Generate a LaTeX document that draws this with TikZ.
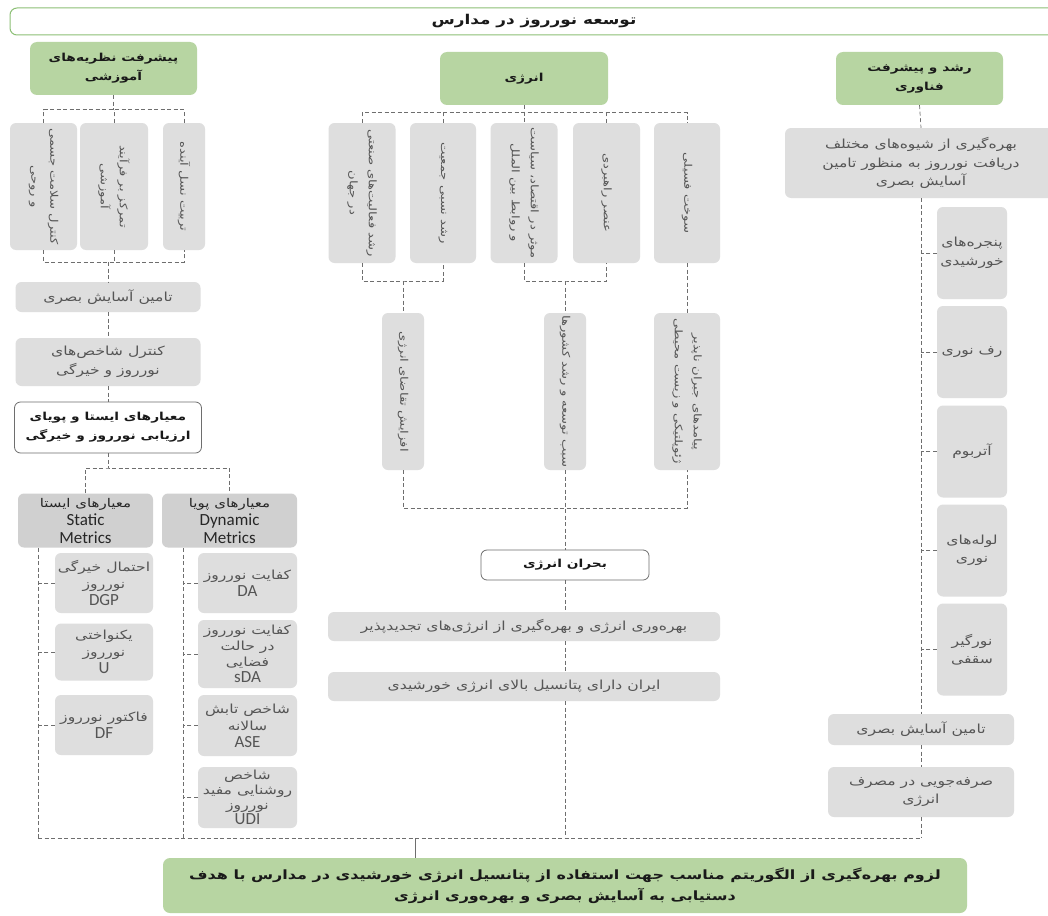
\documentclass[tikz,border=0pt]{standalone}
\usepackage{fontspec}
\newfontfamily\persianfont[Script=Arabic, FakeStretch=1.25]{DejaVu Sans}
\newfontfamily\latinfont{Carlito}
\TeXXeTstate=1
\newcommand{\prs}[1]{{\persianfont\beginR #1\endR}}
\newcommand{\lat}[1]{{\latinfont\fontsize{17}{17}\selectfont #1}}
\definecolor{hdrgreen}{RGB}{183,213,162}
\definecolor{ttlgreen}{RGB}{140,192,118}
\definecolor{boxgray}{RGB}{222,222,222}
\definecolor{boxdark}{RGB}{208,208,208}
\definecolor{txtgray}{RGB}{85,85,85}
\definecolor{linegray}{RGB}{110,110,110}
\begin{document}
\begin{tikzpicture}[x=1pt,y=-1pt]
            \tikzstyle{gbox}=[rounded corners=6pt, fill=boxgray, text=txtgray, align=center, inner sep=1pt, font=\fontsize{12.5}{18.5}\selectfont]
            \tikzstyle{kbox}=[gbox, font=\fontsize{12.5}{17}\selectfont]
            \tikzstyle{vbox}=[gbox, rotate=-90, font=\fontsize{10.5}{19}\selectfont]
            \tikzstyle{mbox}=[gbox, fill=boxdark, text=black!85, font=\fontsize{12}{18}\selectfont]
            \tikzstyle{grn}=[rounded corners=7pt, fill=hdrgreen, text=black!90, align=center, font=\fontsize{11}{19}\selectfont\bfseries]
            \tikzstyle{wbox}=[rounded corners=6pt, fill=white, draw=linegray, line width=0.8pt, align=center, text=black!90, font=\fontsize{11}{19}\selectfont\bfseries]
            \tikzstyle{link}=[linegray, line width=0.7pt, dash pattern=on 4pt off 2.5pt]

            \useasboundingbox (0,0) rectangle (1048,915);
            \fill[white] (0,0) rectangle (1048,915);

            % title and the three headers
            \node[grn, fill=white, draw=ttlgreen, line width=1pt, minimum width=1048, minimum height=27, font=\fontsize{13.5}{16}\selectfont\bfseries] (ttl) at (534,21.5) {\prs{توسعه نورروز در مدارس}};
            \node[grn, minimum width=167, minimum height=53] (h1) at (113.5,68.5) {\prs{پیشرفت نظریه‌های}\\\prs{آموزشی}};
            \node[grn, minimum width=168, minimum height=53] (h2) at (524,78.5) {\prs{انرژی}};
            \node[grn, minimum width=167, minimum height=53] (h3) at (919.5,78.5) {\prs{رشد و پیشرفت}\\\prs{فناوری}};

            % left column
            \node[vbox, minimum width=127, minimum height=67] (a1) at (43.5,186.5) {\prs{کنترل سلامت جسمی}\\\prs{و روحی}};
            \node[vbox, minimum width=127, minimum height=68] (a2) at (114,186.5) {\prs{تمرکز بر فرآیند}\\\prs{آموزشی}};
            \node[vbox, minimum width=127, minimum height=42] (a3) at (184,186.5) {\prs{تربیت نسل آینده}};
            \node[gbox, minimum width=185, minimum height=30] (l1) at (108,297) {\prs{تامین آسایش بصری}};
            \node[gbox, minimum width=185, minimum height=48] (l2) at (108,362) {\prs{کنترل شاخص‌های}\\\prs{نورروز و خیرگی}};
            \node[wbox, minimum width=187, minimum height=51] (l3) at (108,427.5) {\prs{معیارهای ایستا و پویای}\\\prs{ارزیابی نورروز و خیرگی}};
            \node[mbox, minimum width=135, minimum height=54] (s0) at (85.5,520.5) {\prs{معیارهای ایستا}\\\lat{Static}\\\lat{Metrics}};
            \node[mbox, minimum width=135, minimum height=54] (d0) at (229.5,520.5) {\prs{معیارهای پویا}\\\lat{Dynamic}\\\lat{Metrics}};
            \node[kbox, minimum width=98, minimum height=60] (s1) at (104,583) {\prs{احتمال خیرگی}\\\prs{نورروز}\\\lat{DGP}};
            \node[kbox, minimum width=98, minimum height=57] (s2) at (104,652) {\prs{یکنواختی}\\\prs{نورروز}\\\lat{U}};
            \node[kbox, minimum width=98, minimum height=60] (s3) at (104,725) {\prs{فاکتور نورروز}\\\lat{DF}};
            \node[kbox, minimum width=99, minimum height=60] (d1) at (247.5,583) {\prs{کفایت نورروز}\\\lat{DA}};
            \node[kbox, minimum width=99, minimum height=68, font=\fontsize{12.5}{16}\selectfont] (d2) at (247.5,654) {\prs{کفایت نورروز}\\\prs{در حالت}\\\prs{فضایی}\\\lat{sDA}};
            \node[kbox, minimum width=99, minimum height=61] (d3) at (247.5,725.5) {\prs{شاخص تابش}\\\prs{سالانه}\\\lat{ASE}};
            \node[kbox, minimum width=99, minimum height=61, font=\fontsize{12.5}{15}\selectfont] (d4) at (247.5,797.5) {\prs{شاخص}\\\prs{روشنایی مفید}\\\prs{نورروز}\\\lat{UDI}};

            % middle column
            \node[vbox, minimum width=140, minimum height=67] (b1) at (362,193) {\prs{رشد فعالیت‌های صنعتی}\\\prs{در جهان}};
            \node[vbox, minimum width=140, minimum height=66] (b2) at (443,193) {\prs{رشد نسبی جمعیت}};
            \node[vbox, minimum width=140, minimum height=67] (b3) at (524,193) {\prs{موثر در اقتصاد، سیاست}\\\prs{و روابط بین الملل}};
            \node[vbox, minimum width=140, minimum height=67] (b4) at (606.5,193) {\prs{عنصر راهبردی}};
            \node[vbox, minimum width=140, minimum height=66] (b5) at (687,193) {\prs{سوخت فسیلی}};
            \node[vbox, minimum width=157, minimum height=42] (c1) at (403,391.5) {\prs{افزایش تقاضای انرژی}};
            \node[vbox, minimum width=157, minimum height=42] (c2) at (565,391.5) {\prs{سبب توسعه و رشد کشورها}};
            \node[vbox, minimum width=157, minimum height=66] (c3) at (687,391.5) {\prs{پیامدهای جبران ناپذیر}\\\prs{ژئوپلتیکی و زیست محیطی}};
            \node[wbox, minimum width=168, minimum height=30] (bh) at (565,565) {\prs{بحران انرژی}};
            \node[gbox, minimum width=392, minimum height=29] (m1) at (524,626.5) {\prs{بهره‌وری انرژی و بهره‌گیری از انرژی‌های تجدیدپذیر}};
            \node[gbox, minimum width=392, minimum height=29] (m2) at (524,686.5) {\prs{ایران دارای پتانسیل بالای انرژی خورشیدی}};

            % right column
            \node[gbox, minimum width=272, minimum height=70] (r0) at (921,163) {\prs{بهره‌گیری از شیوه‌های مختلف}\\\prs{دریافت نورروز به منظور تامین}\\\prs{آسایش بصری}};
            \node[gbox, minimum width=70, minimum height=92] (r1) at (972,253) {\prs{پنجره‌های}\\\prs{خورشیدی}};
            \node[gbox, minimum width=70, minimum height=92] (r2) at (972,352) {\prs{رف نوری}};
            \node[gbox, minimum width=70, minimum height=92] (r3) at (972,451.5) {\prs{آتربوم}};
            \node[gbox, minimum width=70, minimum height=92] (r4) at (972,550.5) {\prs{لوله‌های}\\\prs{نوری}};
            \node[gbox, minimum width=70, minimum height=92] (r5) at (972,649.5) {\prs{نورگیر}\\\prs{سقفی}};
            \node[gbox, minimum width=186, minimum height=31] (r6) at (921,729.5) {\prs{تامین آسایش بصری}};
            \node[gbox, minimum width=186, minimum height=50] (r7) at (921,792) {\prs{صرفه‌جویی در مصرف}\\\prs{انرژی}};

            % bottom
            \node[grn, minimum width=804, minimum height=55, font=\fontsize{12.8}{21}\selectfont\bfseries] (fb) at (565,885.5) {\prs{لزوم بهره‌گیری از الگوریتم مناسب جهت استفاده از پتانسیل انرژی خورشیدی در مدارس با هدف}\\\prs{دستیابی به آسایش بصری و بهره‌وری انرژی}};

            \coordinate (sT) at (38,548);
            \coordinate (sB) at (38,838);
            \coordinate (dT) at (183,548);
            \coordinate (dB) at (183,838);
            \coordinate (rB) at (921,838);
            \coordinate (mB) at (565,838);
            \coordinate (fT) at (415,838);
            \coordinate (k1) at (403,281);
            \coordinate (k2) at (565,281);
            \coordinate (k3) at (565,508);
            \coordinate (k4) at (108,262);
            \coordinate (k5) at (108,468);

            % left connectors
            \draw[link] (a1.west) -- ++(0,-13) -| (a3.west);
            \draw[link] (h1.south) -- (h1.south |- 0,110);
            \draw[link] (a2.west) -- ++(0,-13);
            \draw[link] (a1.east) |- (k4) -| (a3.east);
            \draw[link] (a2.east) -- (a2.east |- k4);
            \draw[link] (k4) -- (l1.north);
            \draw[link] (l1.south) -- (l2.north);
            \draw[link] (l2.south) -- (l3.north);
            \draw[link] (l3.south) -- (k5);
            \draw[link] (s0.north) |- (k5) -| (d0.north);
            \draw[link] (sT) -- (sB);
            \draw[link] (dT) -- (dB);
            \draw[link] (s1.west) -- (s1.west -| sT);
            \draw[link] (s2.west) -- (s2.west -| sT);
            \draw[link] (s3.west) -- (s3.west -| sT);
            \draw[link] (d1.west) -- (d1.west -| dT);
            \draw[link] (d2.west) -- (d2.west -| dT);
            \draw[link] (d3.west) -- (d3.west -| dT);
            \draw[link] (d4.west) -- (d4.west -| dT);

            % middle connectors
            \draw[link] (b1.west) -- ++(0,-10) -| (b5.west);
            \draw[link] (h2.south) -- (b3.west);
            \draw[link] (b2.west) -- ++(0,-10);
            \draw[link] (b4.west) -- ++(0,-10);
            \draw[link] (b1.east) |- (k1) -| (b2.east);
            \draw[link] (b3.east) |- (k2) -| (b4.east);
            \draw[link] (k1) -- (c1.west);
            \draw[link] (k2) -- (c2.west);
            \draw[link] (b5.east) -- (c3.west);
            \draw[link] (c1.east) |- (k3) -| (c3.east);
            \draw[link] (c2.east) -- (bh.north);
            \draw[link] (bh.south) -- (bh.south |- m1.north);
            \draw[link] (bh.south |- m1.south) -- (bh.south |- m2.north);
            \draw[link] (bh.south |- m2.south) -- (mB);

            % right connectors
            \draw[link] (h3.south) -- (r0.north);
            \draw[link] (r0.south) -- (r6.north);
            \draw[link] (r6.south) -- (r7.north);
            \draw[link] (r7.south) -- (rB);
            \draw[link] (r1.west) -- (r1.west -| rB);
            \draw[link] (r2.west) -- (r2.west -| rB);
            \draw[link] (r3.west) -- (r3.west -| rB);
            \draw[link] (r4.west) -- (r4.west -| rB);
            \draw[link] (r5.west) -- (r5.west -| rB);

            \draw[link] (sB) -- (rB);
            \draw[linegray, line width=0.6pt] (fT) -- (fT |- fb.north);
        \end{tikzpicture}
\end{document}
